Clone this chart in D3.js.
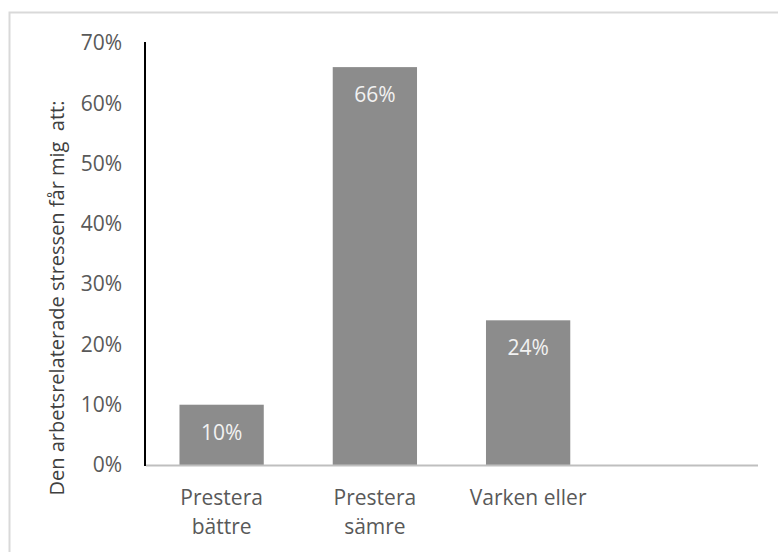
<!DOCTYPE html>
<html>
<head>
<meta charset="utf-8">
<script src="https://cdn.jsdelivr.net/npm/d3@7"></script>
<style>
  html, body { margin: 0; padding: 0; background: #fff; }
  svg { display: block; }
  text { font-family: "Open Sans", "Noto Sans", sans-serif; }
</style>
</head>
<body>
<svg id="chart" width="778" height="552"></svg>
<script>
// Survey answers: how work-related stress affects performance
const categories = ["Prestera bättre", "Prestera sämre", "Varken eller", ""];
const shares = [10, 66, 24, null];
const yTicks = [0, 10, 20, 30, 40, 50, 60, 70];
const yTitle = "Den arbetsrelaterade stressen får mig\u00a0\u00a0att:";

const W = 778, H = 552;
const margin = { top: 43, right: 20, bottom: 87, left: 145 };
const innerW = 758 - margin.left;
const innerH = 465 - margin.top;
const fontSize = 21;
const titleSize = 20;

const svg = d3.select("#chart");

// Chart-area frame
svg.append("rect")
  .attr("x", 9.5).attr("y", 12.5)
  .attr("width", W + 10).attr("height", H + 10)
  .attr("fill", "none")
  .attr("stroke", "#d9d9d9")
  .attr("stroke-width", 2);

const g = svg.append("g").attr("transform", `translate(${margin.left},${margin.top})`);

const x = d3.scaleBand()
  .domain(categories.map((c, i) => i))
  .range([0, innerW])
  .paddingInner(0.45)
  .paddingOuter(0.225);

const y = d3.scaleLinear().domain([0, 70]).range([innerH, 0]);

// Bars
const data = categories.map((c, i) => ({ i, c, v: shares[i] })).filter(d => d.v != null);

g.selectAll("rect.bar")
  .data(data)
  .join("rect")
  .attr("class", "bar")
  .attr("x", d => x(d.i))
  .attr("y", d => y(d.v))
  .attr("width", x.bandwidth())
  .attr("height", d => innerH - y(d.v))
  .attr("fill", "#8c8c8c");

// Value labels inside the bar tops
g.selectAll("text.val")
  .data(data)
  .join("text")
  .attr("class", "val")
  .attr("x", d => x(d.i) + x.bandwidth() / 2)
  .attr("y", d => y(d.v) + 27)
  .attr("text-anchor", "middle")
  .attr("dominant-baseline", "central")
  .attr("fill", "#f2f2f2")
  .attr("font-size", fontSize)
  .text(d => d.v + "%");

// Y axis: tick labels only, black spine
const yAxis = g.append("g")
  .call(d3.axisLeft(y).tickValues(yTicks).tickSize(0).tickPadding(23).tickFormat(d => d + "%"));
yAxis.select(".domain").remove();
yAxis.selectAll("text")
  .attr("fill", "#595959")
  .attr("font-size", fontSize)
  .attr("font-family", "'Open Sans', 'Noto Sans', sans-serif");

g.append("line")
  .attr("x1", 0).attr("x2", 0)
  .attr("y1", y(70) - 1).attr("y2", innerH + 1)
  .attr("stroke", "#000").attr("stroke-width", 2);

// X axis baseline and wrapped category labels
g.append("line")
  .attr("x1", 1).attr("x2", innerW)
  .attr("y1", innerH + 0.5).attr("y2", innerH + 0.5)
  .attr("stroke", "#bfbfbf").attr("stroke-width", 2);

const xLabels = g.selectAll("text.cat")
  .data(categories.map((c, i) => ({ i, c })))
  .join("text")
  .attr("class", "cat")
  .attr("x", d => x(d.i) + x.bandwidth() / 2)
  .attr("y", innerH + 33)
  .attr("text-anchor", "middle")
  .attr("fill", "#595959")
  .attr("font-size", fontSize);

xLabels.each(function(d) {
  const words = d.c === "Varken eller" ? [d.c] : d.c.split(" ").filter(Boolean);
  const t = d3.select(this);
  words.forEach((w, k) => {
    t.append("tspan")
      .attr("x", x(d.i) + x.bandwidth() / 2)
      .attr("dy", k === 0 ? "0.35em" : 29)
      .text(w);
  });
});

// Rotated y-axis title
svg.append("text")
  .attr("transform", "translate(56,298) rotate(-90)")
  .attr("text-anchor", "middle")
  .attr("dominant-baseline", "central")
  .attr("fill", "#404040")
  .attr("font-size", titleSize)
  .text(yTitle);
</script>
</body>
</html>
